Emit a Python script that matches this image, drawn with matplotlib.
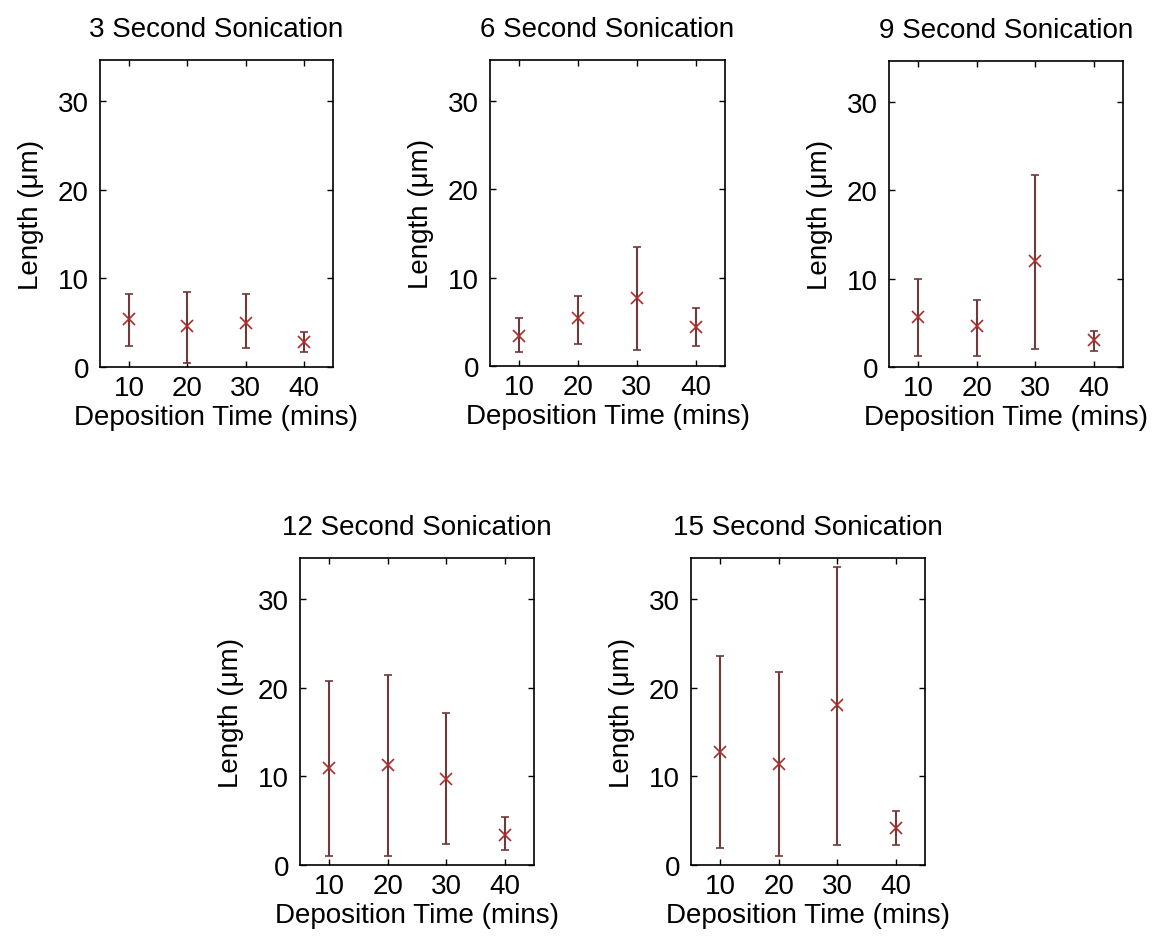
import matplotlib.pyplot as plt

# deposition times (mins)
times = [10, 20, 30, 40]

titles = ["3 Second Sonication", "6 Second Sonication", "9 Second Sonication",
          "12 Second Sonication", "15 Second Sonication"]

# mean length (um) per sonication time
mean_3s = [5.4, 4.6, 5.0, 2.8]
mean_6s = [3.4, 5.4, 7.7, 4.4]
mean_9s = [5.6, 4.6, 12.0, 3.0]
mean_12s = [10.9, 11.3, 9.7, 3.4]
mean_15s = [12.7, 11.4, 18.0, 4.2]

# error bar ends (lower, upper)
low_3s = [2.4, 0.5, 2.1, 1.7]
high_3s = [8.2, 8.4, 8.2, 3.9]
low_6s = [1.6, 2.5, 1.8, 2.3]
high_6s = [5.4, 7.9, 13.5, 6.6]
low_9s = [1.3, 1.3, 2.0, 1.8]
high_9s = [9.9, 7.6, 21.7, 4.1]
low_12s = [1.0, 1.0, 2.4, 1.7]
high_12s = [20.7, 21.4, 17.1, 5.4]
low_15s = [1.9, 1.0, 2.2, 2.2]
high_15s = [23.5, 21.8, 33.6, 6.1]

means = [mean_3s, mean_6s, mean_9s, mean_12s, mean_15s]
lows = [low_3s, low_6s, low_9s, low_12s, low_15s]
highs = [high_3s, high_6s, high_9s, high_12s, high_15s]

W, H = 1153, 945
# axes boxes in pixels: left, right, top, bottom
boxes = [(100, 333, 61, 368), (490, 725, 61, 367), (889, 1123, 62, 368),
         (300, 534, 559, 866), (691, 925, 559, 866)]

plt.rcParams['font.family'] = ['Liberation Sans', 'DejaVu Sans']

fig = plt.figure(figsize=(W / 100, H / 100), dpi=100)

for i in range(5):
    l, r, t, b = boxes[i]
    ax = fig.add_axes([l / W, 1 - b / H, (r - l) / W, (b - t) / H])
    m = means[i]
    yerr = [[m[k] - lows[i][k] for k in range(4)],
            [highs[i][k] - m[k] for k in range(4)]]
    ax.errorbar(times, m, yerr=yerr, fmt='x', color='#7a3434', ecolor='#6e3a3a',
                mec='#b02a2a', ms=9, mew=1.2, elinewidth=1.5, capsize=3, capthick=1.5)
    ax.set_xlim(5, 45)
    ax.set_ylim(0, 34.6)
    ax.set_xticks(times)
    ax.set_yticks([0, 10, 20, 30])
    ax.tick_params(direction='in', top=True, right=True, length=4, width=1,
                   labelsize=20)
    ax.tick_params(axis='x', pad=6)
    ax.tick_params(axis='y', pad=8)
    for s in ax.spines.values():
        s.set_linewidth(1.2)
    ax.set_title(titles[i], fontsize=20, pad=17)
    ax.set_xlabel("Deposition Time (mins)", fontsize=20, labelpad=2)
    ax.set_ylabel("Length (\u03bcm)", fontsize=20, labelpad=10)

fig.savefig("out.png", dpi=100)
